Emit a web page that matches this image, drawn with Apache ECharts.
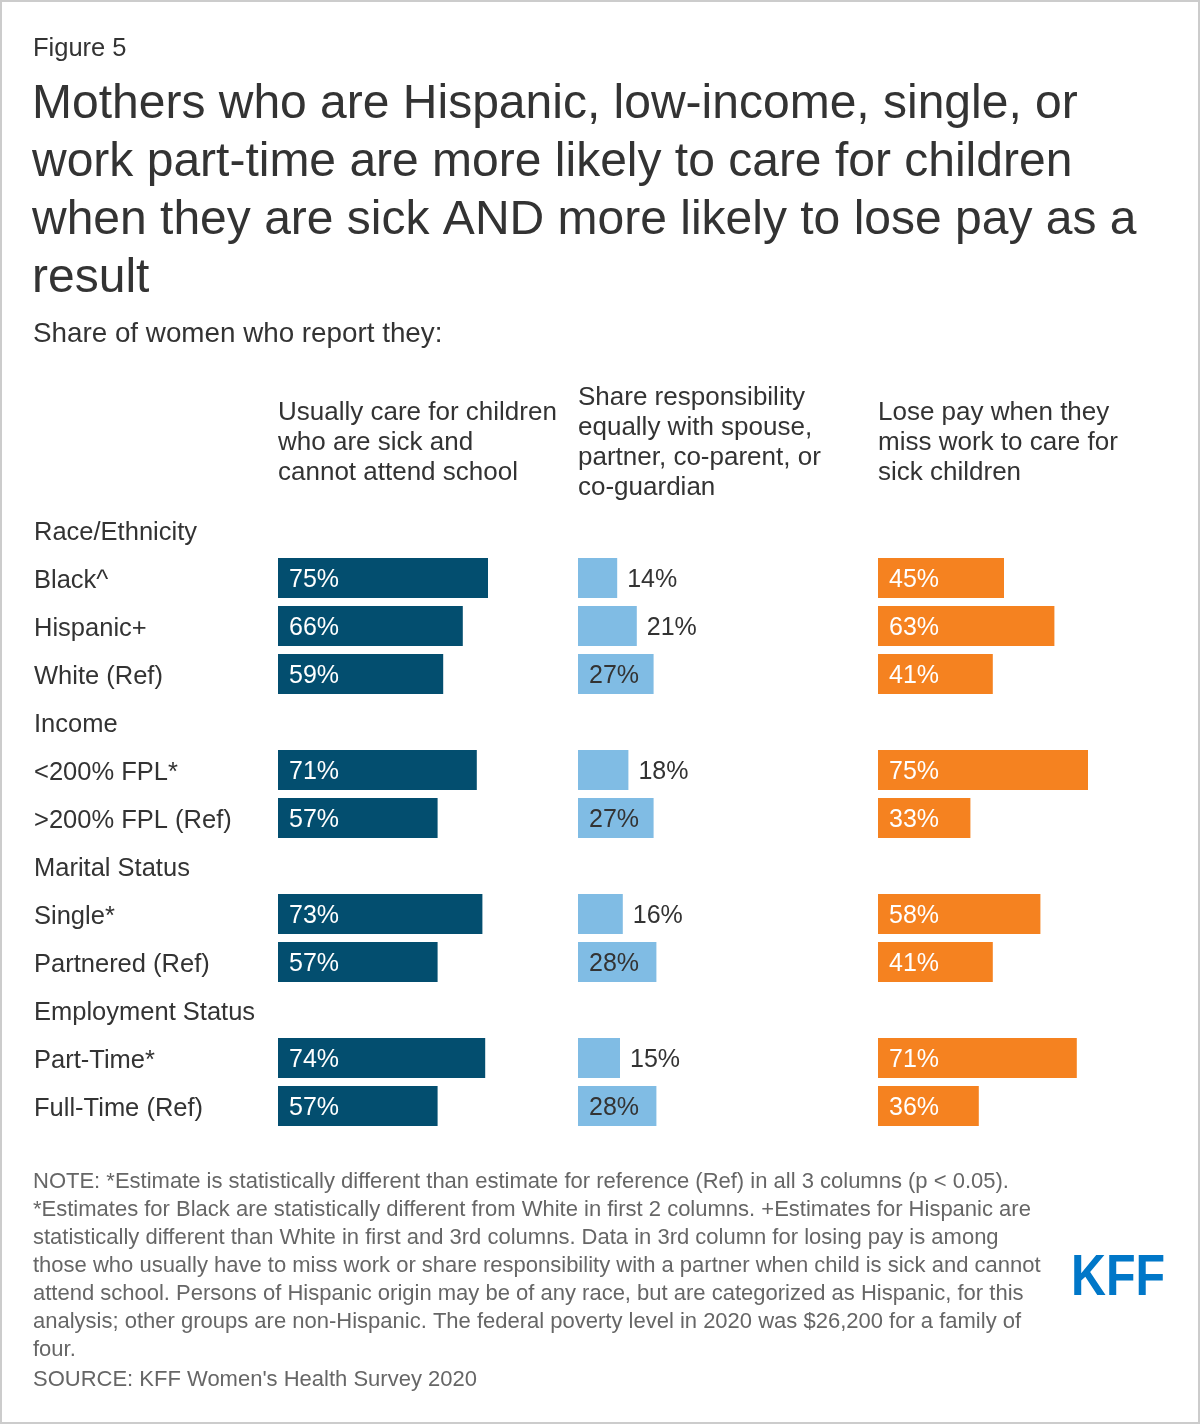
<!DOCTYPE html>
<html>
<head>
<meta charset="utf-8">
<script src="https://cdn.jsdelivr.net/npm/echarts@6/dist/echarts.min.js"></script>
<style>
html,body{margin:0;padding:0;background:#fff;}
#chart{width:1200px;height:1424px;}
</style>
</head>
<body>
<div id="chart"></div>
<script>
// ---- Data ----
var categories = ['Race/Ethnicity','Black^','Hispanic+','White (Ref)','Income','<200% FPL*','>200% FPL (Ref)','Marital Status','Single*','Partnered (Ref)','Employment Status','Part-Time*','Full-Time (Ref)'];
var careSick  = [null,75,66,59,null,71,57,null,73,57,null,74,57];
var shareResp = [null,14,21,27,null,18,27,null,16,28,null,15,28];
var losePay   = [null,45,63,41,null,75,33,null,58,41,null,71,36];
var columnHeaders = [
  'Usually care for children\nwho are sick and\ncannot attend school',
  'Share responsibility\nequally with spouse,\npartner, co-parent, or\nco-guardian',
  'Lose pay when they\nmiss work to care for\nsick children'
];
var titleText = 'Mothers who are Hispanic, low-income, single, or\nwork part-time are more likely to care for children\nwhen they are sick AND more likely to lose pay as a\nresult';
var noteText = 'NOTE: *Estimate is statistically different than estimate for reference (Ref) in all 3 columns (p < 0.05).\n*Estimates for Black are statistically different from White in first 2 columns. +Estimates for Hispanic are\nstatistically different than White in first and 3rd columns. Data in 3rd column for losing pay is among\nthose who usually have to miss work or share responsibility with a partner when child is sick and cannot\nattend school. Persons of Hispanic origin may be of any race, but are categorized as Hispanic, for this\nanalysis; other groups are non-Hispanic. The federal poverty level in 2020 was $26,200 for a family of\nfour.';
var sourceText = 'SOURCE: KFF Women\'s Health Survey 2020';

// ---- Styling ----
var FONT = '"Liberation Sans", Arial, Helvetica, sans-serif';
var TXT = '#333333';
var colors = ['#034e6f', '#80bce4', '#f58220'];
var gridLefts = [278, 578, 878];
var GRID_TOP = 506, GRID_H = 624, GRID_W = 280;

function toData(arr, idx) {
  return arr.map(function (v) {
    if (v === null) return '-';
    var item = { value: v };
    if (idx === 1) {
      if (v < 25) {
        item.label = { position: 'right', distance: 10, color: TXT };
      } else {
        item.label = { position: 'insideLeft', distance: 11, color: TXT };
      }
    }
    return item;
  });
}

var seriesArrays = [careSick, shareResp, losePay];
var grids = [], xAxes = [], yAxes = [], series = [];
for (var i = 0; i < 3; i++) {
  grids.push({ left: gridLefts[i], top: GRID_TOP, width: GRID_W, height: GRID_H, containLabel: false });
  xAxes.push({ gridIndex: i, type: 'value', min: 0, max: 100, show: false });
  yAxes.push({
    gridIndex: i, type: 'category', data: categories, inverse: true,
    axisLine: { show: false }, axisTick: { show: false }, splitLine: { show: false },
    axisLabel: i === 0 ? {
      show: true, align: 'left', margin: 244, color: TXT, fontSize: 25.5, fontFamily: FONT,
      formatter: function (v) { return '{c|' + v + '}'; },
      rich: { c: { color: TXT, fontSize: 25.5, fontFamily: FONT, padding: [5, 0, 0, 0] } }
    } : { show: false }
  });
  series.push({
    type: 'bar', xAxisIndex: i, yAxisIndex: i,
    data: toData(seriesArrays[i], i),
    barWidth: 40,
    itemStyle: { color: colors[i] },
    label: {
      show: true, position: 'insideLeft', distance: 11,
      color: i === 1 ? TXT : '#ffffff',
      fontSize: 25, fontFamily: FONT,
      offset: [0, 2],
      formatter: '{c}%'
    },
    silent: true
  });
}

var graphics = [
  { type: 'rect', shape: { x: 1, y: 1, width: 1198, height: 1422 }, style: { fill: 'none', stroke: '#cccccc', lineWidth: 2 }, silent: true },
  { type: 'text', x: 33, y: 49, style: { text: 'Figure 5', font: '25.5px ' + FONT, fill: TXT, textVerticalAlign: 'middle' } },
  { type: 'text', x: 32, y: 76, style: { text: titleText, font: '48px ' + FONT, fill: TXT, lineHeight: 58, textVerticalAlign: 'top' } },
  { type: 'text', x: 33, y: 334, style: { text: 'Share of women who report they:', font: '27.8px ' + FONT, fill: TXT, textVerticalAlign: 'middle' } },
  { type: 'text', x: 278, y: 398, style: { text: columnHeaders[0], font: '26px ' + FONT, fill: TXT, lineHeight: 30, textVerticalAlign: 'top' } },
  { type: 'text', x: 578, y: 383, style: { text: columnHeaders[1], font: '26px ' + FONT, fill: TXT, lineHeight: 30, textVerticalAlign: 'top' } },
  { type: 'text', x: 878, y: 398, style: { text: columnHeaders[2], font: '26px ' + FONT, fill: TXT, lineHeight: 30, textVerticalAlign: 'top' } },
  { type: 'text', x: 33, y: 1168, style: { text: noteText, font: '22px ' + FONT, fill: '#666666', lineHeight: 28, textVerticalAlign: 'top' } },
  { type: 'text', x: 33, y: 1380, style: { text: sourceText, font: '22px ' + FONT, fill: '#666666', textVerticalAlign: 'middle' } },
  { type: 'text', x: 1071, y: 1279, scaleX: 0.85, style: { text: 'KFF', font: 'bold 57px ' + FONT, fill: '#0077c8', textVerticalAlign: 'middle' } }
];

var chart = echarts.init(document.getElementById('chart'), null, { renderer: 'canvas' });
chart.setOption({
  animation: false,
  backgroundColor: '#ffffff',
  textStyle: { fontFamily: FONT },
  grid: grids,
  xAxis: xAxes,
  yAxis: yAxes,
  series: series,
  graphic: graphics
});
</script>
</body>
</html>
